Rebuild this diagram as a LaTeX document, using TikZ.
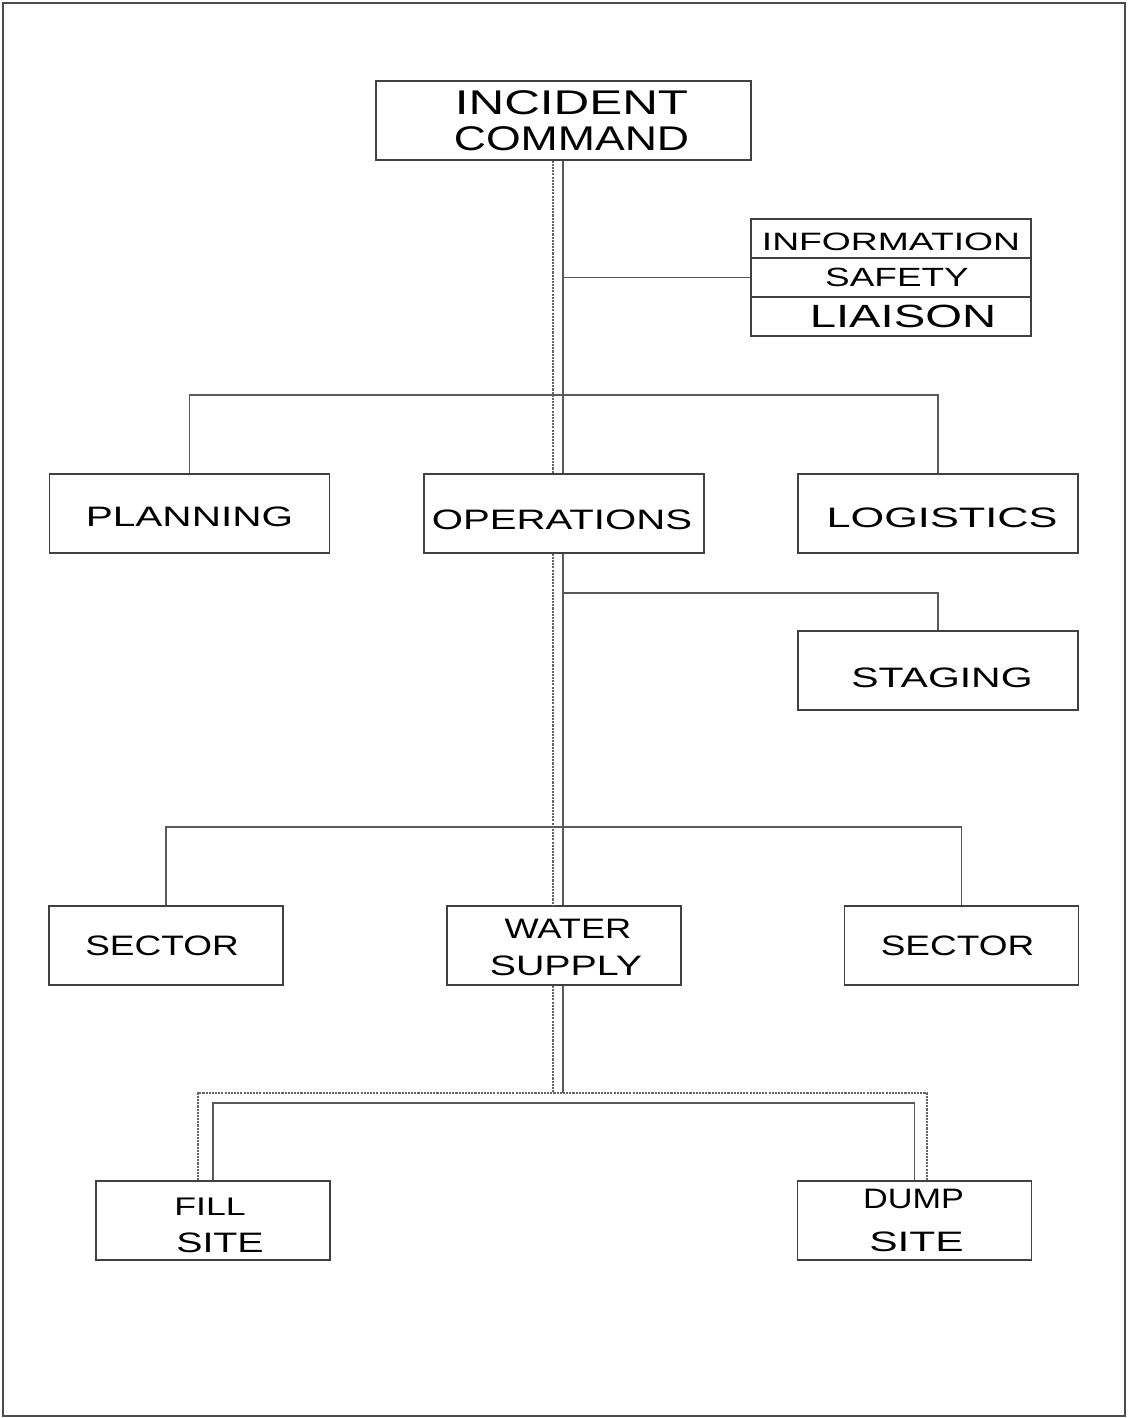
\documentclass[tikz,border=0pt]{standalone}
\usepackage{fontspec}
\usepackage{graphicx}
\newfontfamily\boxfont[FakeStretch=1.4]{Liberation Sans}
\usetikzlibrary{calc}
\newlength{\pxu}
\setlength{\pxu}{0.02cm}
% move a label inside its box without changing the box
\newcommand{\nudge}[3]{\raisebox{-#2\pxu}[\height][\depth]{\kern#1\pxu\relax#3\kern-#1\pxu\relax}}
\newcommand{\squeeze}[2]{\scalebox{#1}[1]{#2}}
\newcommand{\tikzunit}{*0.02cm}
\tikzset{
    unitbox/.style={draw=black!75, line width=0.8pt, fill=white, inner sep=0pt,
        align=center, font=\boxfont\fontsize{16}{21}\selectfont},
    bigbox/.style={unitbox, minimum width=280\tikzunit, minimum height=79\tikzunit},
    midbox/.style={unitbox, minimum width=234\tikzunit, minimum height=79\tikzunit},
    stackbox/.style={unitbox, minimum width=280\tikzunit, minimum height=39\tikzunit},
    link/.style={draw=black!65, line width=0.8pt},
    ghostlink/.style={draw=black!60, line width=0.8pt, dash pattern=on 1.2pt off 0.6pt},
}

\begin{document}
\begin{tikzpicture}[x=0.02cm, y=-0.02cm]
    \useasboundingbox (0,0) rectangle (1127,1418);
    \draw[black!70, line width=0.8pt] (3,3) rectangle (1125,1416);
    % command level
    \node[bigbox, minimum width=375\tikzunit, font=\boxfont\fontsize{19.5}{20.5}\selectfont] (ic) at (563.5,120.5)
        {\nudge{8}{0}{\squeeze{1.03}{INCIDENT}}\\\nudge{8}{0}{\squeeze{0.93}{COMMAND}}};
    \node[stackbox, font=\boxfont\fontsize{14.3}{17}\selectfont] (info) at (891,238.5) {\nudge{0}{3}{\squeeze{1.06}{INFORMATION}}};
    \node[stackbox, font=\boxfont\fontsize{15}{17}\selectfont] (safety) at (891,277.5) {\nudge{6}{0}{SAFETY}};
    \node[stackbox, font=\boxfont\fontsize{18.3}{20}\selectfont] (liaison) at (891,316.5) {\nudge{12}{0}{\squeeze{1.05}{LIAISON}}};
    % sections
    \node[bigbox] (plan) at (189.5,513.5) {\nudge{0}{3}{\squeeze{1.03}{PLANNING}}};
    \node[bigbox] (ops) at (564,513.5) {\nudge{-2}{6}{\squeeze{1.02}{OPERATIONS}}};
    \node[bigbox] (logi) at (938,513.5) {\nudge{4}{4}{\squeeze{1.1}{LOGISTICS}}};
    \node[bigbox] (stage) at (938,670.5) {\nudge{4}{7}{\squeeze{1.04}{STAGING}}};
    % operations level
    \node[midbox] (secL) at (166,945.5) {\nudge{-4}{0}{\squeeze{0.94}{SECTOR}}};
    \node[midbox] (ws) at (564,945.5) {\nudge{4}{2}{\squeeze{0.92}{WATER}}\\\nudge{2}{2}{SUPPLY}};
    \node[midbox] (secR) at (961.5,945.5) {\nudge{-4}{0}{\squeeze{0.94}{SECTOR}}};
    \node[midbox, font=\boxfont\fontsize{14.5}{21}\selectfont] (fill) at (213,1220.5)
        {\nudge{-3}{5}{FILL}\\\nudge{7}{5}{\fontsize{16}{21}\selectfont SITE}};
    \node[midbox, font=\boxfont\fontsize{16}{24}\selectfont] (dump) at (914.5,1220.5)
        {\nudge{-1}{0}{\squeeze{0.87}{DUMP}}\\\nudge{2}{0}{\squeeze{1.08}{SITE}}};

    \coordinate (bar1) at (563,395);
    \coordinate (bar2) at (563,593);
    \coordinate (bar3) at (563,827);
    \coordinate (drop) at (563,1093);
    \coordinate (bar4) at (563,1103);
    \coordinate (dropL) at (553,1093);

    % solid links
    \draw[link] (ic.south -| bar1) -- (ops.north -| bar1);
    \draw[link] (ops.south -| bar1) -- (ws.north -| bar1);
    \draw[link] (ws.south -| bar1) -- (drop);
    \draw[link] (safety.west) -- (safety.west -| bar1);
    \draw[link] (plan.north) |- (bar1) -| (logi.north);
    \draw[link] (bar2) -| (stage.north);
    \draw[link] (secL.north) |- (bar3) -| (secR.north);
    \draw[link] (fill.north) |- (bar4) -| (dump.north);
    % dotted twin
    \draw[ghostlink] (ic.south -| dropL) -- (ops.north -| dropL);
    \draw[ghostlink] (ops.south -| dropL) -- (ws.north -| dropL);
    \draw[ghostlink] (ws.south -| dropL) -- (dropL);
    \draw[ghostlink] ($(fill.north)+(-15,0)$) |- (dropL) -| ($(dump.north)+(12.5,0)$);
\end{tikzpicture}
\end{document}
